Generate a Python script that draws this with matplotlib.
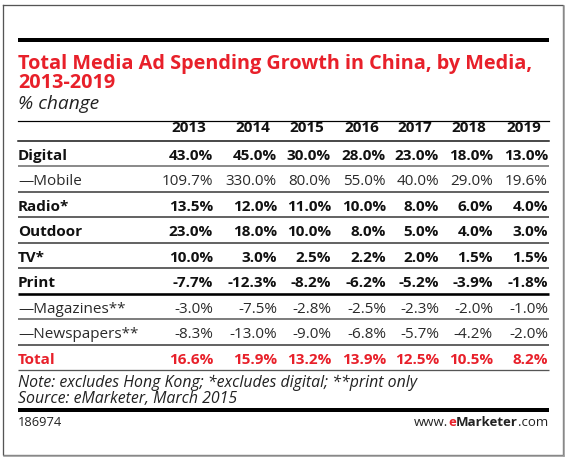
import matplotlib
matplotlib.use("Agg")
import matplotlib.pyplot as plt

# table contents
years = ["2013", "2014", "2015", "2016", "2017", "2018", "2019"]
rows = ["Digital", "\u2014Mobile", "Radio*", "Outdoor", "TV*", "Print",
        "\u2014Magazines**", "\u2014Newspapers**", "Total"]
digital = [43.0, 45.0, 30.0, 28.0, 23.0, 18.0, 13.0]
mobile = [109.7, 330.0, 80.0, 55.0, 40.0, 29.0, 19.6]
radio = [13.5, 12.0, 11.0, 10.0, 8.0, 6.0, 4.0]
outdoor = [23.0, 18.0, 10.0, 8.0, 5.0, 4.0, 3.0]
tv = [10.0, 3.0, 2.5, 2.2, 2.0, 1.5, 1.5]
prnt = [-7.7, -12.3, -8.2, -6.2, -5.2, -3.9, -1.8]
magazines = [-3.0, -7.5, -2.8, -2.5, -2.3, -2.0, -1.0]
newspapers = [-8.3, -13.0, -9.0, -6.8, -5.7, -4.2, -2.0]
total = [16.6, 15.9, 13.2, 13.9, 12.5, 10.5, 8.2]
values = [digital, mobile, radio, outdoor, tv, prnt, magazines, newspapers, total]
bold = [True, False, True, True, True, True, False, False, True]

title_lines = ["Total Media Ad Spending Growth in China, by Media,", "2013-2019"]
subtitle = "% change"
note_lines = ["Note: excludes Hong Kong; *excludes digital; **print only",
              "Source: eMarketer, March 2015"]
chart_id = "186974"

RED = "#e8202a"
FONT = "Open Sans"
plt.rcParams["font.family"] = [FONT, "DejaVu Sans"]

W, H = 568, 461
fig = plt.figure(figsize=(W / 100, H / 100), dpi=100)
ax = fig.add_axes([0, 0, 1, 1])
ax.set_xlim(0, W)
ax.set_ylim(H, 0)
ax.axis("off")

x0, x1 = 18, 549
col_right = [213, 277, 331, 386, 439, 493, 548]
px = 0.72  # points per pixel at 100 dpi

# outer frame
ax.plot([3, 563, 563, 3, 3], [5, 5, 455, 455, 5], color="#555555", lw=1.3 * px,
        solid_joinstyle="miter")
ax.plot([563.5, 563.5], [6, 456], color="#9a9a9a", lw=1.5 * px)
ax.plot([4, 563.5], [455.8, 455.8], color="#9a9a9a", lw=1.5 * px)

# top rule and title
ax.plot([x0, x1], [40, 40], color="black", lw=4 * px, solid_capstyle="butt")
for k, line in enumerate(title_lines):
    ax.text(x0, 69 + k * 19, line, color=RED, fontsize=14.3, fontweight="bold",
            va="baseline", ha="left")
ax.text(x0, 109, subtitle, color="#222222", fontsize=13.8, style="italic",
        va="baseline", ha="left")
ax.plot([x0, x1], [121, 121], color="black", lw=1.2 * px)

# header
for yr, xr in zip(years, col_right):
    ax.text(xr - 7, 132, yr, fontsize=11, fontweight="bold", ha="right",
            va="baseline", color="#111111")
ax.plot([x0, x1], [141, 141], color="#111111", lw=1.5 * px)

# body rows
y_first, step = 159.5, 25.5
line_col = ["#8c8c8c", "#333333", "#333333", "#333333", "#333333", "black",
            "#555555", "#333333", "#555555"]
line_w = [2.0, 1.5, 1.5, 1.5, 1.5, 2.6, 1.5, 1.5, 1.3]
for i, (lab, vals, b) in enumerate(zip(rows, values, bold)):
    yb = y_first + i * step
    color = RED if lab == "Total" else ("#111111" if b else "#2a2a2a")
    weight = "bold" if b else "normal"
    ax.text(x0, yb, lab, fontsize=11, fontweight=weight, color=color,
            ha="left", va="baseline")
    for v, xr in zip(vals, col_right):
        ax.text(xr, yb, f"{v:.1f}%", fontsize=11, fontweight=weight,
                color=color, ha="right", va="baseline")
    yl = yb - 6 + step / 2
    ax.plot([x0, x1], [yl, yl], color=line_col[i], lw=line_w[i] * px,
            solid_capstyle="butt")

# footnote
for k, line in enumerate(note_lines):
    ax.text(x0, 386.5 + k * 16, line, fontsize=11.4, style="italic",
            color="#222222", ha="left", va="baseline")
ax.plot([x0, x1], [410, 410], color="black", lw=4 * px, solid_capstyle="butt")
ax.text(x0, 426, chart_id, fontsize=9.3, color="#222222", ha="left", va="baseline")

# eMarketer url, built right to left
r = fig.canvas.get_renderer()
parts = [(".com", "normal", "#222222"), ("Marketer", "bold", "#222222"),
         ("e", "bold", RED), ("www.", "normal", "#222222")]
xr = 548
for s, wt, c in parts:
    t = ax.text(xr, 426, s, fontsize=9.5, fontweight=wt, color=c, ha="right",
                va="baseline")
    bb = t.get_window_extent(renderer=r)
    xr -= bb.width

fig.savefig("out.png", dpi=100)
